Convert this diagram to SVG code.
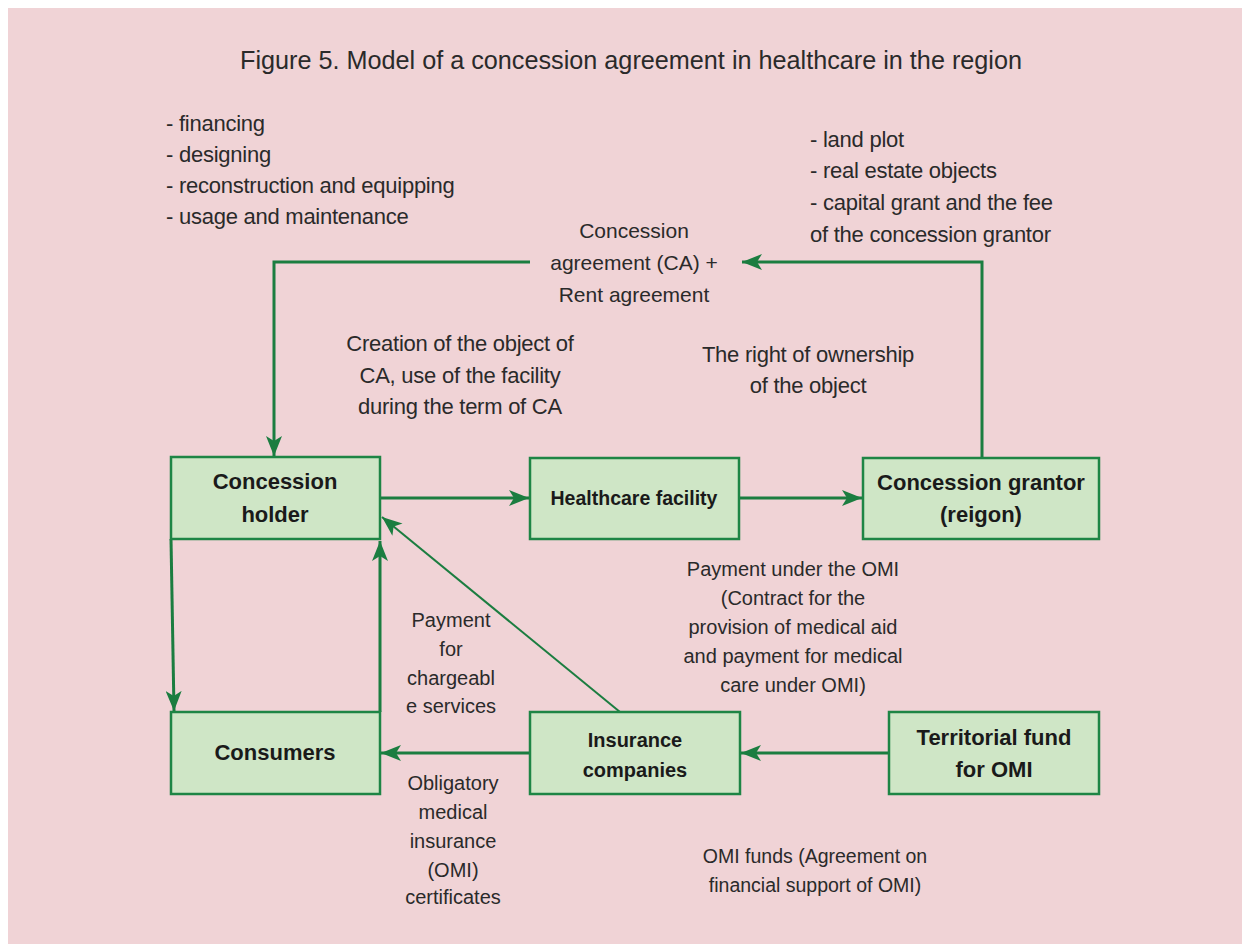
<svg xmlns="http://www.w3.org/2000/svg" width="1242" height="944" viewBox="0 0 1242 944">
<defs>
<marker id="ah" viewBox="0 0 20 16" refX="20" refY="8" markerWidth="20" markerHeight="16" markerUnits="userSpaceOnUse" orient="auto">
<path d="M0,0 L20,8 L0,16 L5,8 Z" fill="#1b7d40"/>
</marker>
<style>
.t{font-family:"Liberation Sans",Arial,sans-serif;fill:#2a2a2a;font-size:20px;text-anchor:middle}
.big{font-size:22px;letter-spacing:-0.25px}
.l{text-anchor:start}
.b{font-family:"Liberation Sans",Arial,sans-serif;fill:#1a1a1a;font-size:22px;font-weight:bold;text-anchor:middle}
.box{fill:#cfe6c6;stroke:#1e8545;stroke-width:2.5}
.c{fill:none;stroke:#1b7d40;stroke-width:3}
.thin{fill:none;stroke:#1b7d40;stroke-width:2}
</style>
</defs>
<rect x="0" y="0" width="1242" height="944" fill="#ffffff"/>
<rect x="8" y="8" width="1234" height="936" fill="#f0d3d6"/>
<text class="t" x="631" y="69" style="font-size:26px" textLength="782" lengthAdjust="spacingAndGlyphs">Figure 5. Model of a concession agreement in healthcare in the region</text>
<g id="lists">
<text class="t big l" x="166" y="131">- financing</text>
<text class="t big l" x="166" y="162">- designing</text>
<text class="t big l" x="166" y="193">- reconstruction and equipping</text>
<text class="t big l" x="166" y="224">- usage and maintenance</text>
<text class="t big l" x="810" y="147">- land plot</text>
<text class="t big l" x="810" y="178">- real estate objects</text>
<text class="t big l" x="810" y="210">- capital grant and the fee</text>
<text class="t big l" x="810" y="242">of the concession grantor</text>
</g>
<g id="connectors">
<polyline class="c" points="982,457 982,262 742,262" marker-end="url(#ah)"/>
<polyline class="c" points="530,262 274,262 274,456" marker-end="url(#ah)"/>
<line class="c" x1="380" y1="498" x2="529" y2="498" marker-end="url(#ah)"/>
<line class="c" x1="739" y1="498" x2="862" y2="498" marker-end="url(#ah)"/>
<line class="c" x1="171" y1="539" x2="174" y2="711" marker-end="url(#ah)"/>
<line class="c" x1="380" y1="712" x2="380" y2="541" marker-end="url(#ah)"/>
<line class="thin" x1="620" y1="712" x2="382" y2="517" marker-end="url(#ah)"/>
<line class="c" x1="530" y1="753" x2="381" y2="753" marker-end="url(#ah)"/>
<line class="c" x1="889" y1="753" x2="741" y2="753" marker-end="url(#ah)"/>
</g>
<g id="labels">
<text class="t" x="634" y="238" style="font-size:21px">Concession</text>
<text class="t" x="634" y="270" style="font-size:21px">agreement (CA) +</text>
<text class="t" x="634" y="302" style="font-size:21px">Rent agreement</text>
<text class="t big" x="460" y="351">Creation of the object of</text>
<text class="t big" x="460" y="383">CA, use of the facility</text>
<text class="t big" x="460" y="414">during the term of CA</text>
<text class="t big" x="808" y="362">The right of ownership</text>
<text class="t big" x="808" y="393">of the object</text>
<text class="t" x="793" y="576">Payment under the OMI</text>
<text class="t" x="793" y="605">(Contract for the</text>
<text class="t" x="793" y="634">provision of medical aid</text>
<text class="t" x="793" y="663">and payment for medical</text>
<text class="t" x="793" y="692">care under OMI)</text>
<text class="t" x="451" y="627">Payment</text>
<text class="t" x="451" y="656">for</text>
<text class="t" x="451" y="685">chargeabl</text>
<text class="t" x="451" y="713">e services</text>
<text class="t" x="453" y="790">Obligatory</text>
<text class="t" x="453" y="819">medical</text>
<text class="t" x="453" y="848">insurance</text>
<text class="t" x="453" y="877">(OMI)</text>
<text class="t" x="453" y="904">certificates</text>
<text class="t" x="815" y="863" style="font-size:19.5px">OMI funds (Agreement on</text>
<text class="t" x="815" y="892" style="font-size:19.5px">financial support of OMI)</text>
</g>
<g id="concession-holder">
<rect class="box" x="171" y="457" width="209" height="82"/>
<text class="b" x="275" y="489">Concession</text>
<text class="b" x="275" y="522">holder</text>
</g>
<g id="healthcare-facility">
<rect class="box" x="530" y="458" width="209" height="81"/>
<text class="b" x="634" y="505" style="font-size:19.5px">Healthcare facility</text>
</g>
<g id="concession-grantor">
<rect class="box" x="863" y="458" width="236" height="81"/>
<text class="b" x="981" y="490">Concession grantor</text>
<text class="b" x="981" y="522">(reigon)</text>
</g>
<g id="consumers">
<rect class="box" x="171" y="712" width="209" height="82"/>
<text class="b" x="275" y="760">Consumers</text>
</g>
<g id="insurance-companies">
<rect class="box" x="530" y="712" width="210" height="82"/>
<text class="b" x="635" y="747" style="font-size:20px">Insurance</text>
<text class="b" x="635" y="777" style="font-size:20px">companies</text>
</g>
<g id="territorial-fund">
<rect class="box" x="889" y="712" width="210" height="82"/>
<text class="b" x="994" y="745">Territorial fund</text>
<text class="b" x="994" y="777">for OMI</text>
</g>
</svg>
